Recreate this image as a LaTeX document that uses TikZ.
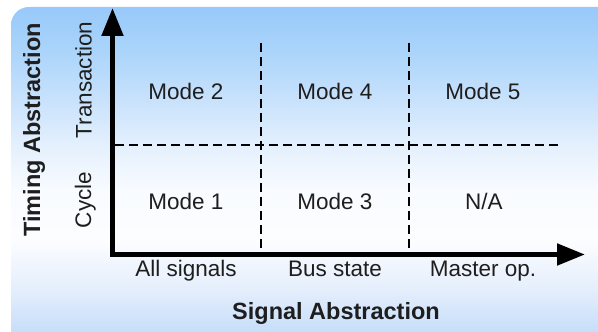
\documentclass[tikz,border=0pt]{standalone}
\usepackage{fontspec}
\setmainfont{Liberation Sans}
\usetikzlibrary{arrows.meta}
\definecolor{bgA}{RGB}{198,222,250}
\definecolor{bgB}{RGB}{228,238,252}
\definecolor{bgC}{RGB}{252,253,255}
\definecolor{bgD}{RGB}{248,251,255}
\definecolor{bgE}{RGB}{228,240,253}
\definecolor{bgF}{RGB}{200,226,252}
\definecolor{bgG}{RGB}{170,212,250}
\definecolor{bgH}{RGB}{152,201,250}
\definecolor{txtc}{RGB}{30,30,30}
\pgfdeclareverticalshading{panelshade}{100bp}{color(0bp)=(bgA); color(25bp)=(bgA); color(31.46bp)=(bgB); color(39.15bp)=(bgC); color(46.85bp)=(bgD); color(53.77bp)=(bgE); color(60.69bp)=(bgF); color(68.38bp)=(bgG); color(75bp)=(bgH); color(100bp)=(bgH)}
\begin{document}
\begin{tikzpicture}[x=1pt,y=1pt,
  txt/.style={text=txtc, font=\fontsize{22.5}{27}\selectfont, inner sep=0pt, anchor=base},
  btxt/.style={text=txtc, font=\fontsize{23.5}{28}\selectfont\bfseries, inner sep=0pt, anchor=base},
  axisline/.style={line width=5pt, line join=miter, {Triangle[length=28pt,width=21pt]}-{Triangle[length=28pt,width=21pt]}},
  gridline/.style={line width=1.4pt, dash pattern=on 9pt off 5pt}]
\useasboundingbox (0,0) rectangle (598,332);
\shade[shading=panelshade] (11,0) -- (11,307) arc[start angle=180,end angle=90,radius=18] -- (598,325) -- (598,0) -- cycle;
% dashed grid
\coordinate (h1) at (115,187);
\coordinate (h2) at (558,187);
\coordinate (v1t) at (261,289);
\coordinate (v1b) at (261,80);
\coordinate (v2t) at (409,289);
\coordinate (v2b) at (409,80);
\draw[gridline] (h1) -- (h2);
\draw[gridline] (v1t) -- (v1b);
\draw[gridline] (v2t) -- (v2b);
% axes
\coordinate (ytip) at (112.5,324);
\coordinate (orig) at (112.5,77.5);
\coordinate (xtip) at (585,77.5);
\draw[axisline] (ytip) -- (orig) -- (xtip);
% cells
\node[txt] (m2) at (186,232) {Mode 2};
\node[txt] (m4) at (335,232) {Mode 4};
\node[txt] (m5) at (483,232) {Mode 5};
\node[txt] (m1) at (186,122) {Mode 1};
\node[txt] (m3) at (335,122) {Mode 3};
\node[txt] (na) at (484,122) {N/A};
% x labels
\node[txt] (xa) at (186,55) {All signals};
\node[txt] (xb) at (335,55) {Bus state};
\node[txt] (xc) at (483,55) {Master op.};
\node[btxt] (xt) at (336,12) {Signal Abstraction};
% y labels
\node[txt, rotate=90] (ya) at (91.5,252) {Transaction};
\node[txt, rotate=90] (yb) at (91,132) {Cycle};
\node[btxt, rotate=90] (yt) at (40,202) {Timing Abstraction};
\end{tikzpicture}
\end{document}
